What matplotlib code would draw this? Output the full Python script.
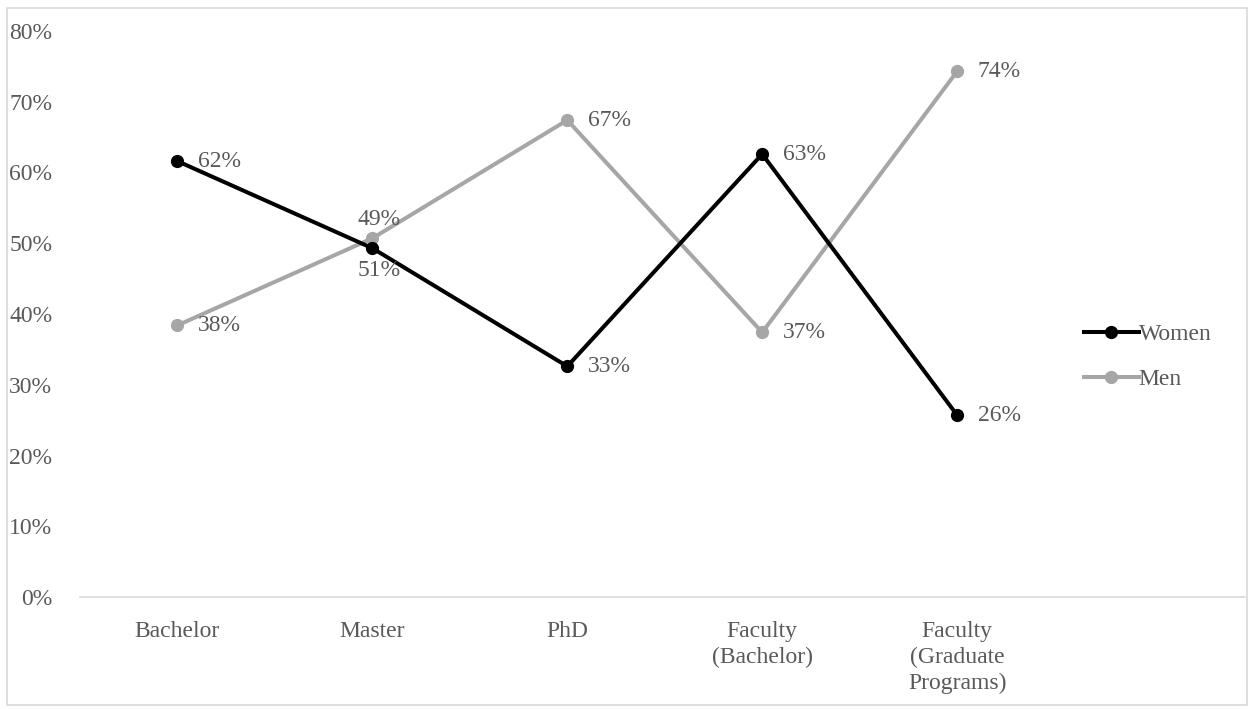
import matplotlib.pyplot as plt
from matplotlib.patches import Rectangle

categories = ['Bachelor', 'Master', 'PhD', 'Faculty\n(Bachelor)', 'Faculty\n(Graduate\nPrograms)']
women = [61.6, 49.3, 32.6, 62.6, 25.7]
men = [38.4, 50.7, 67.4, 37.4, 74.3]
yticks = [0, 10, 20, 30, 40, 50, 60, 70, 80]

# label offsets in points (Master labels sit above/below the crossing)
women_off = [(15, 0), (-11, 21), (15, 0), (15, 0), (15, 0)]
men_off = [(15, 0), (-11, -23), (15, 0), (15, 0), (15, 0)]

plt.rcParams['font.family'] = ['Liberation Serif', 'DejaVu Serif']
text_col = '#595959'
fs = 17

fig = plt.figure(figsize=(12.51, 7.09), dpi=100)
ax = fig.add_axes([80 / 1251, 1 - 597 / 709, (1245 - 80) / 1251, (597 - 31) / 709])

x = list(range(len(categories)))
ax.plot(x, women, color='black', lw=2.9, marker='o', ms=8.5, label='Women', zorder=3)
ax.plot(x, men, color='#a6a6a6', lw=2.9, marker='o', ms=8.5, label='Men', zorder=2)

for i in x:
    dx, dy = women_off[i]
    ax.annotate(f'{round(women[i])}%', (i, women[i]), xytext=(dx, dy), textcoords='offset points',
                ha='left', va='center', fontsize=fs, color=text_col)
    dx, dy = men_off[i]
    ax.annotate(f'{round(men[i])}%', (i, men[i]), xytext=(dx, dy), textcoords='offset points',
                ha='left', va='center', fontsize=fs, color=text_col)

ax.set_xlim(-0.5, 5.477)
ax.set_ylim(0, 80)
ax.set_yticks(yticks)
ax.set_yticklabels([f'{t}%' for t in yticks], fontsize=fs, color=text_col)
ax.set_xticks(x)
ax.set_xticklabels(categories, fontsize=fs, color=text_col, linespacing=1.3, va='top')
ax.tick_params(length=0, pad=17)
ax.tick_params(axis='y', pad=20)
for s in ['top', 'right', 'left']:
    ax.spines[s].set_visible(False)
ax.spines['bottom'].set_color('#d9d9d9')
ax.spines['bottom'].set_linewidth(1.2)

leg = ax.legend(loc='center left', bbox_to_anchor=(1063 / 1251, 352 / 709), bbox_transform=fig.transFigure,
                frameon=False, fontsize=fs, handlelength=2.3, handletextpad=0.0, labelspacing=1.0)
for t in leg.get_texts():
    t.set_color(text_col)

fig.patches.append(Rectangle((7 / 1251, 4 / 709), 1240 / 1251, 697 / 709, transform=fig.transFigure,
                             fill=False, edgecolor='#d9d9d9', lw=1.2))

fig.savefig('out.png', dpi=100)
